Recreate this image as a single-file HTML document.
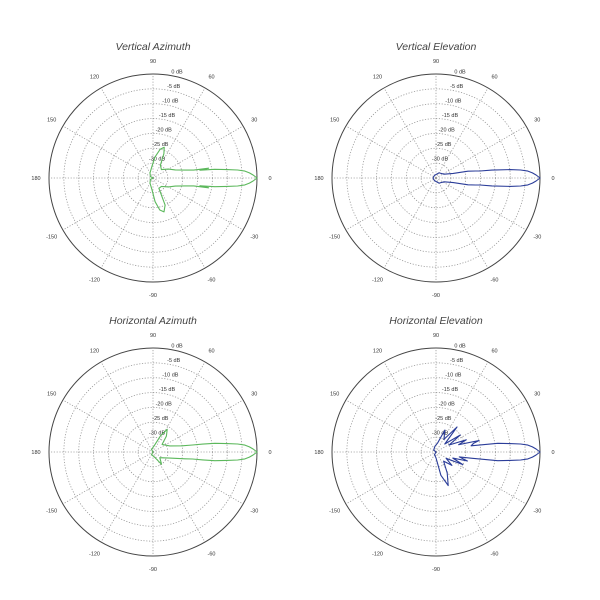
<!DOCTYPE html>
<html><head><meta charset="utf-8"><style>
body{margin:0;background:#fff}
svg{display:block;font-family:"Liberation Sans",sans-serif}
</style></head><body>
<svg id="s" width="600" height="600" viewBox="0 0 600 600"></svg>
<script>
const ringDb=[-5,-10,-15,-20,-25,-30];
const dbLabels=["0 dB","-5 dB","-10 dB","-15 dB","-20 dB","-25 dB","-30 dB"];
const angleTicks=[0,30,60,90,120,150,180,-150,-120,-90,-60,-30];
const titles=["Vertical Azimuth","Vertical Elevation","Horizontal Azimuth","Horizontal Elevation"];
const vaAng=[-180,-150,-120,-95,-85,-78,-72,-66,-60,-45,-30,-20,-14,-11,-10,-9.5,-8,-6.5,-5.4,-4.3,-3,-1.7,0,1.7,3,4.3,5.4,6.5,8,9.5,10,11,14,20,30,45,60,66,70,76,85,95,120,150,180];
const vaDb=[-35,-34,-33,-31,-27,-24,-23,-25,-31,-31,-29,-27,-24,-21,-16,-19,-14,-10,-6.4,-4,-2.5,-1.3,0,-1.3,-2.5,-4,-6.4,-10,-14,-19,-16,-21,-24,-27,-29,-31,-30,-26,-24,-25,-28,-31,-33,-34,-35];
const veAng=[-180,-120,-60,-25,-15,-12,-10,-9,-8,-6.5,-5.4,-4.3,-3,-1.7,0,1.7,3,4.3,5.4,6.5,8,9,10,12,15,25,60,120,180];
const veDb=[-34,-34,-33,-32,-29,-24,-21.5,-20,-16,-10,-6.4,-4,-2.5,-1.3,0,-1.3,-2.5,-4,-6.4,-10,-16,-20,-21.5,-24,-29,-32,-33,-34,-34];
const haAng=[-180,-120,-70,-55,-40,-20,-12,-10,-9,-8,-6.5,-5.4,-4.3,-3,-1.7,0,1.7,3,4.3,5.4,6.5,8,9,10,12,20,40,50,58,65,80,120,180];
const haDb=[-35,-34,-33,-30,-32,-29,-24,-21.5,-18,-14,-10,-6.4,-4,-2.5,-1.3,0,-1.3,-2.5,-4,-6.4,-10,-14,-18,-21.5,-25,-29,-31,-28,-26,-29,-33,-34,-35];
const heAng=[-180,-120,-90,-78,-70,-62,-50,-40,-32,-25,-20,-16,-12,-10,-8,-6.5,-5.4,-4.3,-3,-1.7,0,1.7,3,4.3,5.4,6.5,8,10,13,15,18,22,28,35,42,50,58,68,80,100,140,180];
const heDb=[-35,-34,-33,-27,-23,-27,-31,-28,-31,-25,-29,-24,-27,-23,-14,-10,-6.4,-4,-2.5,-1.3,0,-1.3,-2.5,-4,-6.4,-10,-14,-23,-22,-20,-27,-24,-30,-25,-31,-24,-30,-27,-32,-33,-34,-35];
const series=[[vaAng,vaDb,"#5cb85c"],[veAng,veDb,"#2b3d99"],[haAng,haDb,"#5cb85c"],[heAng,heDb,"#2b3d99"]];
const centers=[[153,178],[436,178],[153,452],[436,452]];
const R=104,minDb=-35;
const NS="http://www.w3.org/2000/svg";
const svg=document.getElementById('s');
function rScale(d){return Math.max(0,(d-minDb)/(0-minDb))*R;}
function pt(cx,cy,a,r){const t=a*Math.PI/180;return [cx+r*Math.cos(t),cy-r*Math.sin(t)];}
function mk(tag,attrs,parent){const e=document.createElementNS(NS,tag);for(const k in attrs)e.setAttribute(k,attrs[k]);(parent||svg).appendChild(e);return e;}
centers.forEach((c,i)=>{
  const [cx,cy]=c;
  const g=mk('g',{});
  
  
  const t=mk('text',{x:cx,y:cy-128,'text-anchor':'middle','font-size':'10.5','font-style':'italic',fill:'#444'},g);
  t.textContent=titles[i];
  
  
  angleTicks.forEach(a=>{
    const [x,y]=pt(cx,cy,a,R);
    const l=mk('line',{x1:cx,y1:cy,x2:x,y2:y,stroke:'#999','stroke-width':'0.8','stroke-dasharray':'1.2,1.6'},g);
    
    
    const [lx,ly]=pt(cx,cy,a,R+13);
    const tx=mk('text',{x:lx,y:ly+2,'text-anchor':'middle','font-size':'5.5',fill:'#333'},g);
    tx.textContent=String(a);
    
    
  });
  ringDb.forEach(d=>{
    const ci=mk('circle',{cx:cx,cy:cy,r:rScale(d),fill:'none',stroke:'#999','stroke-width':'0.8','stroke-dasharray':'1.2,1.6'},g);
    
    
  });
  const oc=mk('circle',{cx:cx,cy:cy,r:R,fill:'none',stroke:'#444','stroke-width':'1'},g);
  
  
  dbLabels.forEach((lab,k)=>{
    const d=-5*k;
    const [x,y]=pt(cx,cy,77,rScale(d)+3);
    const tx=mk('text',{x:x,y:y,'text-anchor':'middle','font-size':'5.5',fill:'#333'},g);
    tx.textContent=lab;
    
    
  });
  const [A,D,col]=series[i];
  let p='';
  A.forEach((a,j)=>{const [x,y]=pt(cx,cy,a,rScale(D[j]));p+=(j?'L':'M')+x.toFixed(1)+','+y.toFixed(1);});
  const path=mk('path',{d:p+'Z',fill:'none',stroke:col,'stroke-width':'1.1','stroke-linejoin':'round'},g);
  
  
});
</script>
</body></html>
